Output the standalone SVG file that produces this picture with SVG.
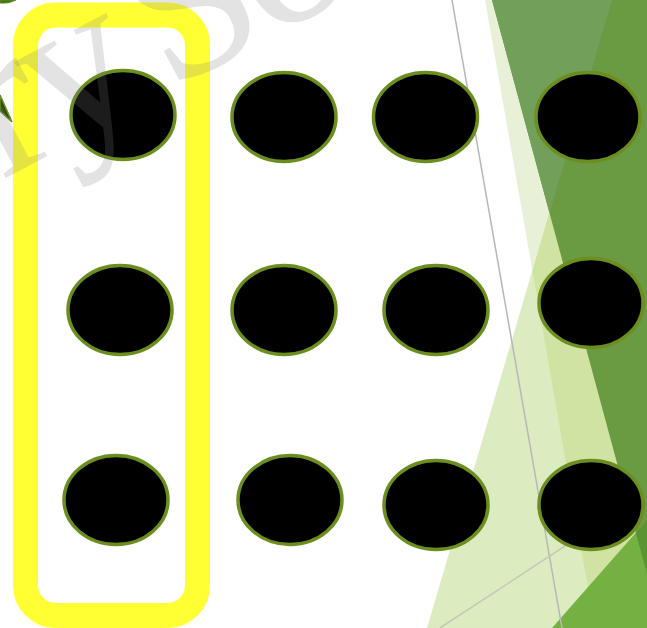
<svg xmlns="http://www.w3.org/2000/svg" width="647" height="628" viewBox="0 0 647 628">
<style>
.dot{fill:#000;stroke:#6b8e1e;stroke-width:3.5}
.gl{fill:none;stroke-width:1.5}
.wm{font-family:"Liberation Serif","DejaVu Serif",serif;font-size:215px;letter-spacing:-8px;fill:#808080;fill-opacity:0.22}
</style>
<rect width="647" height="628" fill="#ffffff"/>
<g id="background">
<polygon points="485,0 595,628 647,628 647,0" fill="#e8f1d8"/>
<polygon points="549.3,213 427,628 647,628 647,213" fill="#dcebc0"/>
<polygon points="549.3,213 532.4,270.8 595,628 647,628 647,213" fill="#d0e3a2"/>
<polygon points="492,0 647,0 647,574" fill="#6a9a42"/>
<polygon points="492,0 612,0 549.5,213" fill="#72a05a"/>
<polygon points="552,628 647,520 647,628" fill="#75b043"/>
<polygon points="635.8,532.7 647,520 647,574" fill="#5b9433"/>
<line class="gl" x1="452" y1="0" x2="562" y2="628" stroke="#b8b8b8"/>
<line class="gl" x1="440" y1="628" x2="600" y2="523" stroke="#c2cab6"/>
<path d="M0,0 L16,0 Q9,4 0,3 Z" fill="#3f6f18" stroke="#6b8e1e" stroke-width="1"/>
<path d="M0,95 L12,122 L0,111 Z" fill="#2e5010" stroke="#6b8e1e" stroke-width="1.5"/>
</g>
<g id="highlight">
<rect x="25.5" y="15" width="172" height="600.5" rx="30" ry="30" fill="none" stroke="#ffff33" stroke-width="25"/>
</g>
<g id="nodes">
<g id="n1"><ellipse class="dot" cx="123" cy="115" rx="52" ry="44.5"/></g>
<g id="n2"><ellipse class="dot" cx="284" cy="117" rx="52" ry="44.5"/></g>
<g id="n3"><ellipse class="dot" cx="425.5" cy="117" rx="52" ry="44.5"/></g>
<g id="n4"><ellipse class="dot" cx="588" cy="117" rx="52" ry="44.5"/></g>
<g id="n5"><ellipse class="dot" cx="120" cy="310" rx="52" ry="44.5"/></g>
<g id="n6"><ellipse class="dot" cx="284" cy="310" rx="52" ry="44.5"/></g>
<g id="n7"><ellipse class="dot" cx="436" cy="310" rx="52" ry="44.5"/></g>
<g id="n8"><ellipse class="dot" cx="591" cy="303" rx="52" ry="44.5"/></g>
<g id="n9"><ellipse class="dot" cx="116" cy="500" rx="52" ry="44.5"/></g>
<g id="n10"><ellipse class="dot" cx="290" cy="500" rx="52" ry="44.5"/></g>
<g id="n11"><ellipse class="dot" cx="436" cy="505" rx="52" ry="44.5"/></g>
<g id="n12"><ellipse class="dot" cx="591" cy="505" rx="52" ry="44.5"/></g>
</g>
<g id="watermark">
<text class="wm" x="0" y="0" transform="translate(2,180) rotate(-28)">ry<tspan dx="-20"> So</tspan></text>
</g>
</svg>
